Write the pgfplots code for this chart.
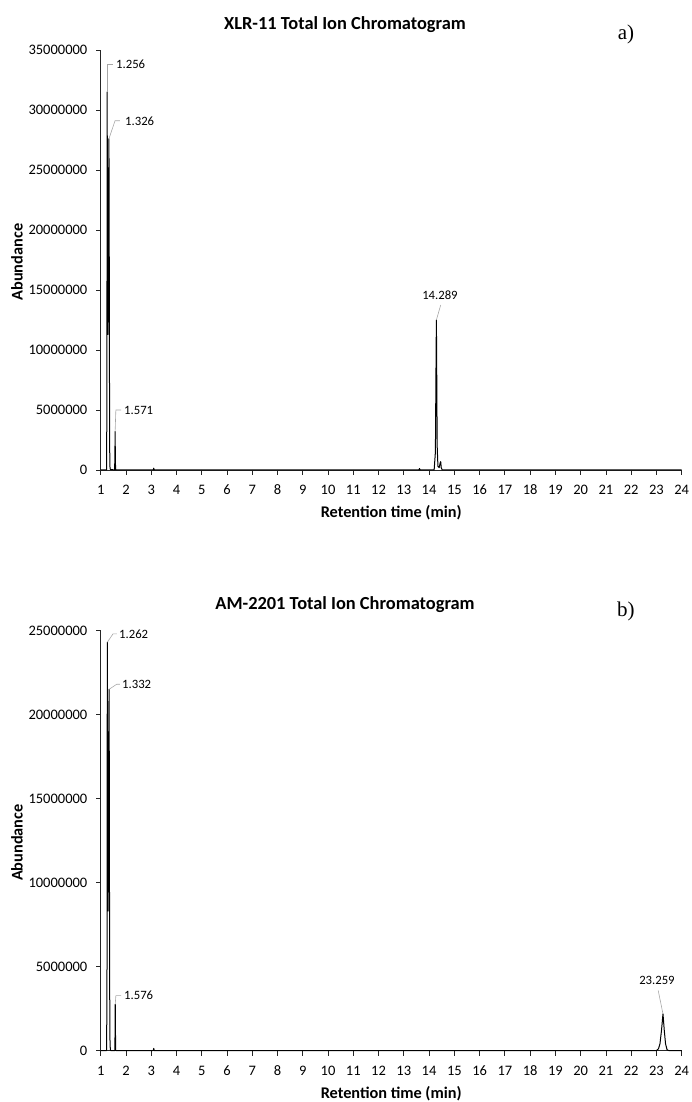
\documentclass[border=0pt]{standalone}
\usepackage{fontspec}
\setmainfont{Carlito}[Numbers=Lining]
\newfontfamily\timesfont{Liberation Serif}
\usepackage{pgfplots}
\usepackage{pgfplotstable}
\pgfplotsset{compat=1.18}

\pgfplotstableread{
x y
1.000 0
1.230 0
1.245 5000000
1.256 31500000
1.262 25000000
1.270 16000000
1.285 11300000
1.300 15000000
1.315 24000000
1.326 27600000
1.335 22000000
1.345 10000000
1.355 2000000
1.365 300000
1.380 50000
1.550 0
1.562 1000000
1.571 3200000
1.580 1000000
1.590 0
3.080 0
3.100 150000
3.120 0
13.600 0
13.620 120000
13.640 0
14.200 0
14.250 1500000
14.275 9000000
14.289 12500000
14.300 9000000
14.320 2000000
14.350 300000
14.400 200000
14.440 600000
14.460 700000
14.480 200000
14.520 0
24.000 0
}\xlrdata

\pgfplotstableread{
x y
1.000 0
1.235 0
1.250 5000000
1.262 24300000
1.268 20000000
1.278 12000000
1.292 8300000
1.305 13000000
1.320 19000000
1.332 21500000
1.340 17000000
1.350 8000000
1.360 2000000
1.370 300000
1.390 0
1.560 0
1.568 1000000
1.576 2750000
1.585 1000000
1.595 0
3.080 0
3.100 120000
3.120 0
23.000 0
23.080 100000
23.140 400000
23.200 1200000
23.259 2180000
23.310 1200000
23.360 400000
23.420 50000
23.480 0
24.000 0
}\amdata

\newcommand{\tkfont}{\fontsize{14.5pt}{17pt}\selectfont}
\newcommand{\labfont}{\fontsize{16.3pt}{19pt}\selectfont\bfseries}
\newcommand{\titfont}{\fontsize{18.4pt}{22pt}\selectfont\bfseries}
\newcommand{\peakfont}{\fontsize{12.7pt}{15pt}\selectfont}

\pgfplotsset{chrom/.style={
  scale only axis, width=581pt, height=420pt,
  xmin=1, xmax=24, xtick={1,...,24}, ymin=0,
  axis lines=left,
  axis line style={-, line width=0.8pt, black!85},
  tick align=inside, major tick length=-5pt,
  tick style={black!85, line width=0.8pt},
  scaled y ticks=false,
  /pgf/number format/assume math mode=true,
  xticklabel={\tkfont\pgfmathprintnumber[assume math mode=true]{\tick}},
  yticklabel={\tkfont\pgfmathprintnumber[assume math mode=true, fixed, 1000 sep={}]{\tick}},
  tick label style={font=\tkfont, inner sep=0pt},
  yticklabel style={anchor=east, xshift=-13.2pt},
  xticklabel style={anchor=base, yshift=-24.7pt},
  xlabel={Retention time (min)},
  ylabel={Abundance},
  label style={font=\labfont},
  x label style={at={(axis description cs:0.5,0)}, anchor=center, yshift=-43pt},
  y label style={at={(axis description cs:-0.1441,0.495)}, anchor=center},
  title style={font=\titfont, at={(axis description cs:0.4205,1)}, anchor=center},
  clip=false,
}}

\begin{document}
\begin{tikzpicture}
\useasboundingbox (-100.7pt,-632pt) rectangle (590.3pt,470pt);

\begin{axis}[chrom, at={(0,0)}, anchor=south west,
  ymax=35000000, ytick={0,5000000,...,35000000},
  title={XLR-11 Total Ion Chromatogram},
  title style={yshift=19pt}]
  \addplot[black, line width=1pt, line join=round, no markers] table[x=x,y=y] {\xlrdata};
  \draw[gray!70, line width=0.6pt] (axis cs:1.256,31500000) -- (axis cs:1.256,33800000) -- (axis cs:1.487,33800000);
  \node[anchor=west, inner sep=0pt, font=\peakfont] at (axis cs:1.606,33800000) {1.256};
  \draw[gray!70, line width=0.6pt] (axis cs:1.326,27600000) -- (axis cs:1.566,29100000) -- (axis cs:1.764,29100000);
  \node[anchor=west, inner sep=0pt, font=\peakfont] at (axis cs:1.962,29100000) {1.326};
  \draw[gray!70, line width=0.6pt] (axis cs:1.571,3200000) -- (axis cs:1.600,5000000) -- (axis cs:1.804,5000000);
  \node[anchor=west, inner sep=0pt, font=\peakfont] at (axis cs:1.922,5000000) {1.571};
  \draw[gray!70, line width=0.6pt] (axis cs:14.289,12500000) -- (axis cs:14.46,13750000);
  \node[anchor=south, inner sep=0pt, font=\peakfont] at (axis cs:14.43,14150000) {14.289};
  \node[font=\timesfont\fontsize{21pt}{24pt}\selectfont] at (axis description cs:0.904,1) [yshift=16pt] {a)};
\end{axis}

\begin{axis}[chrom, at={(0,-580.5pt)}, anchor=south west,
  ymax=25000000, ytick={0,5000000,...,25000000},
  title={AM-2201 Total Ion Chromatogram},
  title style={yshift=19.5pt}]
  \addplot[black, line width=1pt, line join=round, no markers] table[x=x,y=y] {\amdata};
  \draw[gray!70, line width=0.6pt] (axis cs:1.262,24300000) -- (axis cs:1.487,24800000) -- (axis cs:1.645,24800000);
  \node[anchor=west, inner sep=0pt, font=\peakfont] at (axis cs:1.724,24800000) {1.262};
  \draw[gray!70, line width=0.6pt] (axis cs:1.332,21500000) -- (axis cs:1.633,21800000) -- (axis cs:1.764,21800000);
  \node[anchor=west, inner sep=0pt, font=\peakfont] at (axis cs:1.843,21800000) {1.332};
  \draw[gray!70, line width=0.6pt] (axis cs:1.576,2750000) -- (axis cs:1.600,3270000) -- (axis cs:1.804,3270000);
  \node[anchor=west, inner sep=0pt, font=\peakfont] at (axis cs:1.922,3270000) {1.576};
  \draw[gray!70, line width=0.6pt] (axis cs:23.259,2180000) -- (axis cs:23.07,3570000);
  \node[anchor=south, inner sep=0pt, font=\peakfont] at (axis cs:23.02,3900000) {23.259};
  \node[font=\timesfont\fontsize{21pt}{24pt}\selectfont] at (axis description cs:0.904,1) [yshift=19pt] {b)};
\end{axis}
\end{tikzpicture}
\end{document}
